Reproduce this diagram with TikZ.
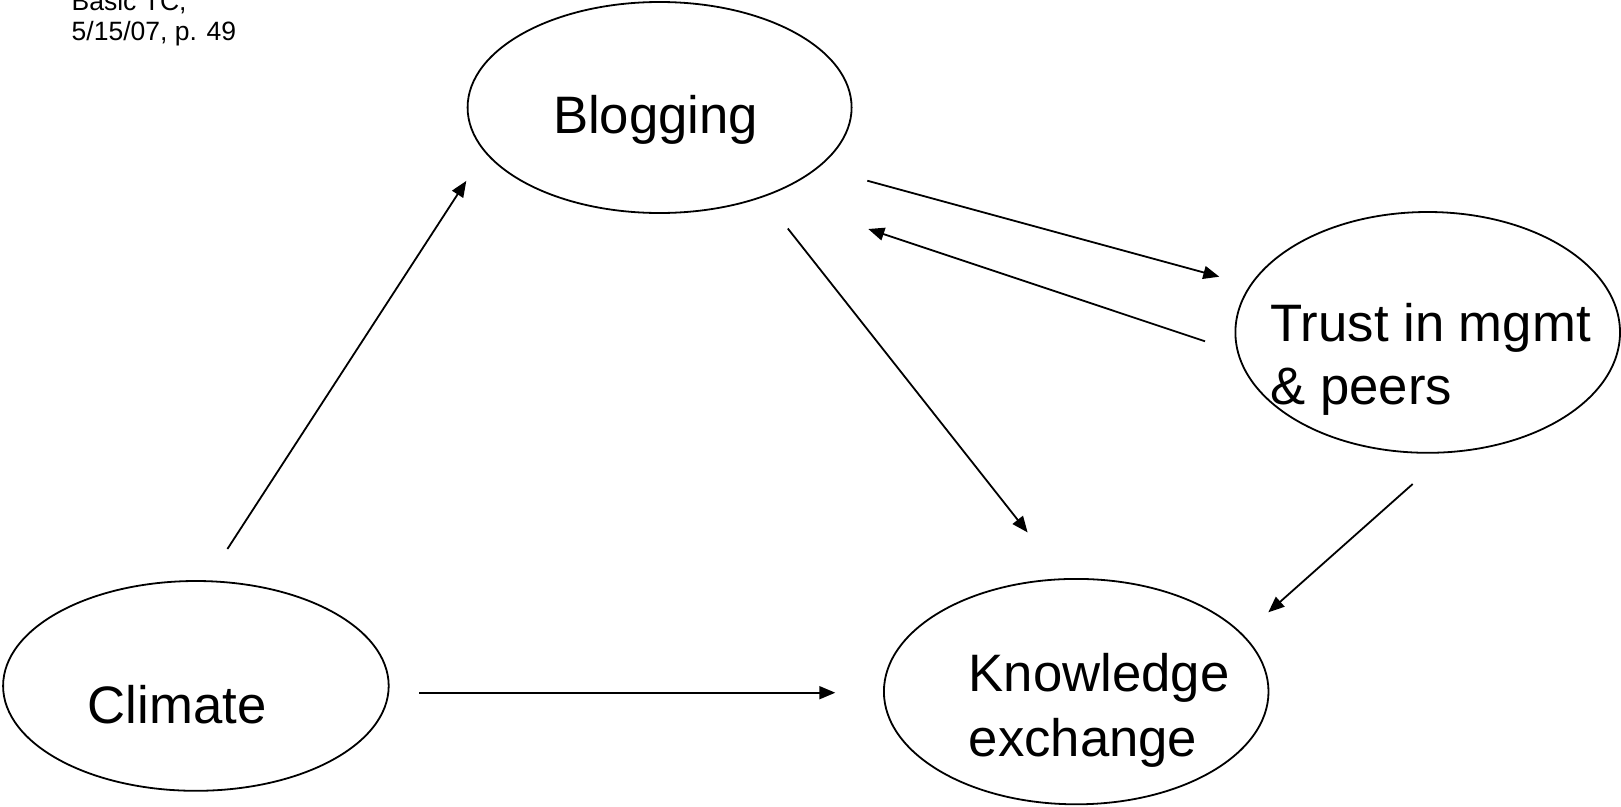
\documentclass[tikz,border=0pt]{standalone}
\usepackage{fontspec}
\setmainfont{Liberation Sans}
\usetikzlibrary{shapes.geometric,arrows.meta}
\tikzset{
  bubble/.style={draw=black,ellipse,line width=1.8pt,inner sep=0pt,outer sep=0pt},
  lbl/.style={anchor=base west,inner sep=0pt,outer sep=0pt,font=\fontsize{52.7}{65}\selectfont},
  note/.style={anchor=base west,inner sep=0pt,outer sep=0pt,font=\fontsize{26.5}{30.7}\selectfont},
  conn/.style={line width=1.8pt,-{Triangle[length=16pt,width=13pt]}}
}
\begin{document}
\begin{tikzpicture}[x=1pt,y=-1pt]
\useasboundingbox (0,0) rectangle (1621,806);
% ellipses
\node[bubble,minimum width=384pt,minimum height=211pt] (blog) at (659.6,107.5) {};
\node[bubble,minimum width=385.6pt,minimum height=209.8pt] (clim) at (195.9,685.9) {};
\node[bubble,minimum width=384.6pt,minimum height=225.4pt] (know) at (1076.2,691.6) {};
\node[bubble,minimum width=384.6pt,minimum height=240.8pt] (trust) at (1427.7,332.4) {};
% labels
\node[lbl] (tblog) at (553,133.4) {Blogging};
\node[lbl] (tclim) at (87.9,723.7) {Climate};
\node[lbl] (tknow1) at (968.7,691.6) {Knowledge};
\node[lbl] (tknow2) at (968.7,756.7) {exchange};
\node[lbl] (ttrust1) at (1270.6,341.2) {Trust in mgmt};
\node[lbl] (ttrust2) at (1270.6,404.2) {\& peers};
\node[note] (n1) at (71.7,10) {Basic TC,};
\node[note] (n2) at (71.7,40.7) {5/15/07, p. 49};
% connector ends
\coordinate (a1) at (227.4,549);
\coordinate (a2) at (466.3,180.9);
\coordinate (b1) at (867.3,180.7);
\coordinate (b2) at (1219.3,276.7);
\coordinate (c1) at (1205,341.3);
\coordinate (c2) at (868.3,229);
\coordinate (d1) at (787.8,228.5);
\coordinate (d2) at (1027.6,532.4);
\coordinate (e1) at (1412.7,484);
\coordinate (e2) at (1268.3,612.3);
\coordinate (f1) at (419.3,692.7);
\coordinate (f2) at (835.3,692.7);
\draw[conn] (a1) -- (a2);
\draw[conn] (b1) -- (b2);
\draw[conn] (c1) -- (c2);
\draw[conn] (d1) -- (d2);
\draw[conn] (e1) -- (e2);
\draw[conn] (f1) -- (f2);
\end{tikzpicture}
\end{document}
